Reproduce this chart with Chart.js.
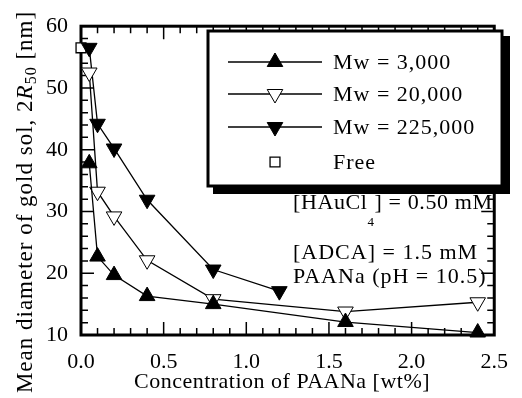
<!DOCTYPE html>
<html>
<head>
<meta charset="utf-8">
<script src="https://cdn.jsdelivr.net/npm/chart.js@4/dist/chart.umd.min.js"></script>
<style>
  html, body { margin: 0; padding: 0; background: #fff; }
  canvas { display: block; }
  .probe { font-family: "Liberation Serif"; position: absolute; left: -999px; top: 0; }
</style>
</head>
<body>
<span class="probe">Mw 0.5</span>
<canvas id="c" width="522" height="398"></canvas>
<script>
const SERIF = '"Liberation Serif", "Times New Roman", Times, serif';

// Mean gold sol diameter 2R50 [nm] vs. PAANa concentration [wt%]
const concMw3k = [0.05, 0.1, 0.2, 0.4, 0.8, 1.6, 2.4];
const sizeMw3k = [37.8, 22.7, 19.7, 16.3, 15.0, 12.1, 10.4];

const concMw20k = [0.05, 0.1, 0.2, 0.4, 0.8, 1.6, 2.4];
const sizeMw20k = [52.5, 33.2, 29.2, 22.1, 15.8, 13.8, 15.3];

const concMw225k = [0.05, 0.1, 0.2, 0.4, 0.8, 1.2];
const sizeMw225k = [56.5, 44.2, 40.2, 31.9, 20.6, 17.1];

const concFree = [0.0];
const sizeFree = [56.5];

const seriesLabels = ['Mw = 3,000', 'Mw = 20,000', 'Mw = 225,000', 'Free'];

const xTickValues = [0.0, 0.5, 1.0, 1.5, 2.0, 2.5];
const yTickValues = [10, 20, 30, 40, 50, 60];

const toPoints = (xs, ys) => xs.map((x, i) => ({ x: x, y: ys[i] }));

// draw a sequence of text runs (normal / italic / subscript) from a start point
function drawRuns(ctx, runs, x, y) {
  let cx = x;
  runs.forEach(r => {
    ctx.font = r.font;
    cx += (r.dx || 0);
    ctx.fillText(r.text, cx, y + (r.dy || 0));
    cx += ctx.measureText(r.text).width;
  });
  return cx - x;
}
function runsWidth(ctx, runs) {
  let w = 0;
  runs.forEach(r => { ctx.font = r.font; w += ctx.measureText(r.text).width + (r.dx || 0); });
  return w;
}
function setSpacing(ctx, v) {
  try { ctx.letterSpacing = v; } catch (e) {}
}

// frame with inward major/minor ticks on all four sides
const framePlugin = {
  id: 'frame',
  beforeDatasetsDraw(chart) {
    const ctx = chart.ctx;
    const { left, right, top, bottom } = chart.chartArea;
    const xs = chart.scales.x, ys = chart.scales.y;
    ctx.save();
    ctx.strokeStyle = '#000';
    ctx.lineWidth = 1.5;
    ctx.beginPath();
    for (let i = 0; i <= 25; i++) {
      const px = xs.getPixelForValue(i / 10);
      const len = (i % 5 === 0) ? 13 : 7;
      ctx.moveTo(px, bottom); ctx.lineTo(px, bottom - len);
      ctx.moveTo(px, top); ctx.lineTo(px, top + len);
    }
    for (let v = 10; v <= 60; v += 2) {
      const py = ys.getPixelForValue(v);
      const len = (v % 10 === 0) ? 13 : 7;
      ctx.moveTo(left, py); ctx.lineTo(left + len, py);
      ctx.moveTo(right, py); ctx.lineTo(right - len, py);
    }
    ctx.stroke();
    ctx.lineWidth = 3;
    ctx.strokeRect(left, top, right - left, bottom - top);
    ctx.restore();
  }
};

// axis titles, legend box with drop shadow, and condition notes
const textPlugin = {
  id: 'texts',
  afterDraw(chart) {
    const ctx = chart.ctx;
    ctx.save();
    ctx.fillStyle = '#000';
    ctx.textBaseline = 'alphabetic';
    ctx.textAlign = 'left';

    // x axis title
    setSpacing(ctx, '0.5px');
    ctx.font = '22px ' + SERIF;
    const xt = 'Concentration of PAANa [wt%]';
    const xw = ctx.measureText(xt).width;
    ctx.fillText(xt, 282 - xw / 2, 388);

    // y axis title (rotated)
    setSpacing(ctx, '1px');
    const yRuns = [
      { text: 'Mean diameter of gold sol, 2', font: '23px ' + SERIF },
      { text: 'R', font: 'italic 23px ' + SERIF },
      { text: '50', font: '16px ' + SERIF, dy: 4 },
      { text: ' [nm]', font: '23px ' + SERIF }
    ];
    const yw = runsWidth(ctx, yRuns);
    ctx.save();
    ctx.translate(32, 202 + yw / 2);
    ctx.rotate(-Math.PI / 2);
    drawRuns(ctx, yRuns, 0, 0);
    ctx.restore();

    // legend box
    const bx = 208, by = 31, bw = 294, bh = 155;
    ctx.fillStyle = '#000';
    ctx.fillRect(bx + 5, by + 5, bw + 3, bh + 3);
    ctx.fillStyle = '#fff';
    ctx.fillRect(bx, by, bw, bh);
    ctx.strokeStyle = '#000';
    ctx.lineWidth = 3;
    ctx.strokeRect(bx, by, bw, bh);

    const rowY = [62, 94, 127, 162];
    const drawPoint = Chart.helpers && Chart.helpers.drawPoint;
    chart.data.datasets.forEach((ds, i) => {
      const y = rowY[i];
      ctx.strokeStyle = '#000';
      if (ds.showLine !== false) {
        ctx.lineWidth = ds.borderWidth;
        ctx.beginPath();
        ctx.moveTo(228, y); ctx.lineTo(322, y);
        ctx.stroke();
      }
      ctx.fillStyle = ds.pointBackgroundColor;
      ctx.strokeStyle = ds.pointBorderColor;
      ctx.lineWidth = ds.pointBorderWidth;
      if (drawPoint) {
        drawPoint(ctx, {
          pointStyle: ds.pointStyle,
          rotation: ds.pointRotation || 0,
          radius: ds.pointRadius,
          borderWidth: ds.pointBorderWidth
        }, 275, y);
      }
      ctx.fillStyle = '#000';
      ctx.font = '22px ' + SERIF;
      setSpacing(ctx, '1px');
      ctx.fillText(ds.label, 333, y + 7);
    });

    // experimental conditions
    ctx.fillStyle = '#000';
    setSpacing(ctx, '0.6px');
    drawRuns(ctx, [
      { text: '[HAuCl', font: '22px ' + SERIF },
      { text: '4', font: '13px ' + SERIF, dy: 17 },
      { text: '] = 0.50 mM', font: '22px ' + SERIF }
    ], 293, 209);
    setSpacing(ctx, '1px');
    drawRuns(ctx, [{ text: '[ADCA] = 1.5 mM', font: '22px ' + SERIF }], 293, 259);
    drawRuns(ctx, [{ text: 'PAANa (pH = 10.5)', font: '22px ' + SERIF }], 293, 283);
    setSpacing(ctx, '0px');
    ctx.restore();
  }
};

const lineSeries = (label, xs, ys, style, rot, fill) => ({
  label: label,
  data: toPoints(xs, ys),
  borderColor: '#000',
  borderWidth: 1.3,
  pointStyle: style,
  pointRotation: rot,
  pointRadius: 9,
  pointHoverRadius: 9,
  pointBackgroundColor: fill,
  pointBorderColor: '#000',
  pointBorderWidth: 1,
  tension: 0,
  fill: false,
  clip: false
});

const datasets = [
  lineSeries(seriesLabels[0], concMw3k, sizeMw3k, 'triangle', 0, '#000'),
  lineSeries(seriesLabels[1], concMw20k, sizeMw20k, 'triangle', 180, '#fff'),
  lineSeries(seriesLabels[2], concMw225k, sizeMw225k, 'triangle', 180, '#000'),
  Object.assign(lineSeries(seriesLabels[3], concFree, sizeFree, 'rect', 0, '#fff'),
    { showLine: false, pointRadius: 7, pointHoverRadius: 7, pointBorderWidth: 1.3 })
];

function build() {
  new Chart(document.getElementById('c'), {
    type: 'line',
    data: { datasets: datasets },
    options: {
      responsive: false,
      animation: false,
      events: [],
      layout: { padding: { left: 0, top: 24, right: 17, bottom: 0 } },
      plugins: { legend: { display: false }, tooltip: { enabled: false } },
      scales: {
        x: {
          type: 'linear',
          min: 0, max: 2.5,
          grid: { display: false, drawTicks: false },
          border: { display: false },
          afterBuildTicks: s => { s.ticks = xTickValues.map(v => ({ value: v })); },
          afterFit: s => { s.height = 63; },
          ticks: {
            padding: 14,
            color: '#000',
            font: { family: SERIF, size: 22 },
            maxRotation: 0,
            callback: v => Number(v).toFixed(1)
          }
        },
        y: {
          type: 'linear',
          min: 10, max: 60,
          grid: { display: false, drawTicks: false },
          border: { display: false },
          afterBuildTicks: s => { s.ticks = yTickValues.map(v => ({ value: v })); },
          afterFit: s => { s.width = 81; },
          ticks: {
            padding: 13,
            color: '#000',
            font: { family: SERIF, size: 22 },
            callback: v => String(v)
          }
        }
      }
    },
    plugins: [framePlugin, textPlugin]
  });
}

const fontReady = (document.fonts && document.fonts.load)
  ? Promise.all([
      document.fonts.load('22px "Liberation Serif"'),
      document.fonts.load('italic 22px "Liberation Serif"')
    ]).catch(() => null)
  : Promise.resolve();
fontReady.then(build, build);
</script>
</body>
</html>
